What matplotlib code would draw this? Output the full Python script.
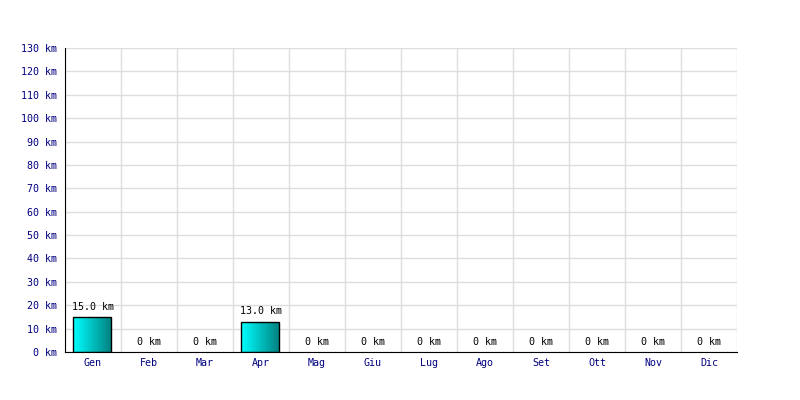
import matplotlib
matplotlib.use('Agg')
import matplotlib.pyplot as plt
import numpy as np
from matplotlib.colors import LinearSegmentedColormap

months = ['Gen', 'Feb', 'Mar', 'Apr', 'Mag', 'Giu', 'Lug', 'Ago', 'Set', 'Ott', 'Nov', 'Dic']
km = [15.0, 0, 0, 13.0, 0, 0, 0, 0, 0, 0, 0, 0]
yticks = list(range(0, 131, 10))

plt.rcParams['font.family'] = ['DejaVu Sans Mono']

fig = plt.figure(figsize=(8, 4), dpi=100)
ax = fig.add_axes([0.08125, 0.12, 0.84, 0.76])

x = np.arange(len(months))
w = 0.68
cmap = LinearSegmentedColormap.from_list('cy', ['#00ffff', '#008080'])
grad = np.linspace(0, 1, 64).reshape(1, -1)

for xi, v in zip(x, km):
    if v > 0:
        bar = ax.bar(xi - 0.02, v, width=w, color='none', edgecolor='black', linewidth=1, zorder=3)[0]
        im = ax.imshow(grad, cmap=cmap, aspect='auto',
                       extent=[xi - 0.02 - w/2, xi - 0.02 + w/2, 0, v], zorder=2)
        im.set_clip_path(bar)
        lab = '%.1f km' % v
    else:
        lab = '0 km'
    ax.text(xi, v + 2.3, lab, ha='center', va='bottom', fontsize=7.2, color='black')

ax.set_xlim(-0.5, len(months) - 0.5)
ax.set_ylim(0, 130)
ax.set_yticks(yticks)
ax.set_yticklabels(['%d km' % t for t in yticks])
ax.set_xticks(x)
ax.set_xticklabels(months)
ax.set_xticks(np.arange(-0.5, len(months)), minor=True)
ax.tick_params(axis='both', which='both', length=0, labelsize=7.2, labelcolor='#000080')
ax.tick_params(axis='y', pad=6)
ax.tick_params(axis='x', pad=4)
ax.grid(True, axis='y', color='#dddddd', linewidth=1, zorder=0)
ax.grid(True, axis='x', which='minor', color='#dddddd', linewidth=1, zorder=0)
ax.set_axisbelow(True)
for s in ['top', 'right']:
    ax.spines[s].set_visible(False)
ax.spines['left'].set_color('black')
ax.spines['bottom'].set_color('black')

fig.savefig('out.png', dpi=100)
